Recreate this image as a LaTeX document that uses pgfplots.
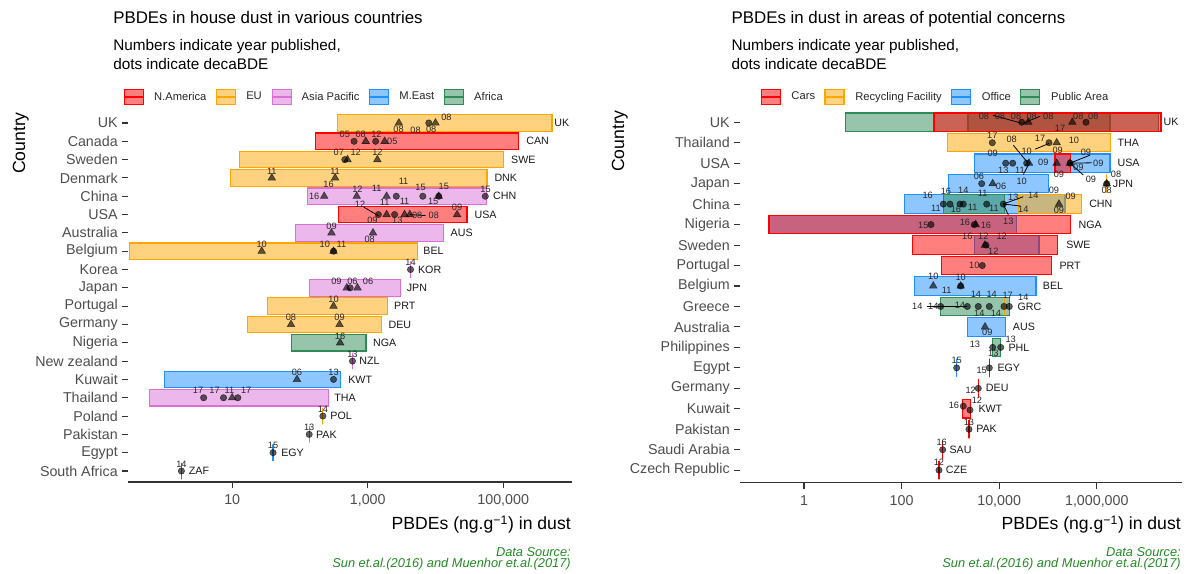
\documentclass[border=0pt]{standalone}
\usepackage{fontspec}
\setmainfont{Liberation Sans}
\usepackage{pgfplots}
\pgfplotsset{compat=1.18}
\definecolor{cNA}{HTML}{FF0000}
\definecolor{cEU}{HTML}{FFA500}
\definecolor{cAP}{HTML}{DA70D6}
\definecolor{cME}{HTML}{1E90FF}
\definecolor{cAF}{HTML}{2E8B57}
\definecolor{tickgray}{HTML}{4D4D4D}
\definecolor{axisgray}{HTML}{333333}
\definecolor{srcgreen}{HTML}{228B22}
\newcommand\rbar[4]{%
  \pgfmathsetmacro\ylo{#3-0.45}\pgfmathsetmacro\yhi{#3+0.45}%
  \edef\tmpbar{\noexpand\addplot[forget plot, draw=#4, fill=#4, fill opacity=0.5, line width=0.85pt, line join=miter] coordinates {(#1,\ylo) (#2,\ylo) (#2,\yhi) (#1,\yhi)} -- cycle;}\tmpbar}
\pgfplotsset{
 mypts/.style={forget plot, only marks, mark=*, mark size=2.4pt, black, opacity=0.62},
 mytri/.style={forget plot, only marks, mark=triangle*, mark size=3.3pt, black, opacity=0.62},
 myyl/.style={forget plot, draw=none, mark=none, nodes near coords, point meta=explicit symbolic,
   every node near coord/.append style={anchor=center, inner sep=0pt, font=\fontsize{6.9}{7}\selectfont, text=black!85}},
 mycl/.style={forget plot, draw=none, mark=none, nodes near coords, point meta=explicit symbolic,
   every node near coord/.append style={anchor=west, inner sep=0pt, font=\fontsize{8}{9}\selectfont, text=black!90}},
 myseg/.style={forget plot, black, line width=0.6pt},
}
\begin{document}
\begin{tikzpicture}[x=0.75pt,y=0.75pt]
\useasboundingbox (0,0) rectangle (1188,574);
% ---------------- LEFT ----------------
\begin{axis}[scale only axis, xmode=log, y dir=reverse, enlargelimits=false,
   axis x line*=bottom, axis y line*=left,
   x axis line style={draw=axisgray, line width=0.8pt, -},
   y axis line style={draw=none},
   tick align=outside, major tick length=4.5pt,
   xtick pos=left, ytick pos=left,
   tick style={draw=axisgray, line width=0.8pt},
   xminorticks=false, yminorticks=false,
   ticklabel style={font=\fontsize{10.7}{12}\selectfont, text=tickgray},
   yticklabel style={inner sep=0pt, xshift=-3pt},
   xticklabel style={inner sep=0pt, yshift=-5pt},
   legend cell align=left, legend columns=-1,
   legend image code/.code={\draw[#1, fill opacity=0.5] (0pt,-5.6pt) rectangle (14.25pt,5.6pt); \draw[#1] (0pt,0pt) -- (14.25pt,0pt);},
  at={(96pt,69pt)}, anchor=south west, width=333pt, height=277.5pt,
  xmin=0.29, xmax=1035000, ymin=0.4, ymax=20.6,
  xtick={10,1000,100000}, xticklabels={10,{1,000},{100,000}},
  ytick={1,...,20},
  yticklabels={UK,Canada,Sweden,Denmark,China,USA,Australia,Belgium,Korea,Japan,Portugal,Germany,Nigeria,New zealand,Kuwait,Thailand,Poland,Pakistan,Egypt,South Africa},
  legend style={at={(-0.009,1.0405)}, anchor=west, draw=none, fill=none, inner sep=0pt, outer sep=0pt,
    nodes={inner sep=0pt}, font=\fontsize{8.4}{10}\selectfont, text=black!85,
    /tikz/every odd column/.append style={column sep=7.5pt},
    /tikz/every even column/.append style={column sep=7.3pt}},
]
\addlegendimage{draw=cNA, fill=cNA, line width=0.85pt}\addlegendentry{N.America}
\addlegendimage{draw=cEU, fill=cEU, line width=0.85pt}\addlegendentry{EU}
\addlegendimage{draw=cAP, fill=cAP, line width=0.85pt}\addlegendentry{Asia Pacific}
\addlegendimage{draw=cME, fill=cME, line width=0.85pt}\addlegendentry{M.East}
\addlegendimage{draw=cAF, fill=cAF, line width=0.85pt}\addlegendentry{Africa}
\rbar{362}{525000}{1}{cEU}
\rbar{168}{170000}{2}{cNA}
\rbar{12.8}{101000}{3}{cEU}
\rbar{9.35}{57500}{4}{cEU}
\rbar{130}{56200}{5}{cAP}
\rbar{375}{29200}{6}{cNA}
\rbar{86.5}{13200}{7}{cAP}
\rbar{0.303}{5380}{8}{cEU}
\rbar{4290}{4290}{9}{cAP}
\rbar{139}{3055}{10}{cAP}
\rbar{33.5}{1950}{11}{cEU}
\rbar{16.6}{1590}{12}{cEU}
\rbar{75.5}{944}{13}{cAF}
\rbar{596}{596}{14}{cAP}
\rbar{1.01}{401}{15}{cME}
\rbar{0.596}{261}{16}{cAP}
\rbar{218}{218}{17}{cEU}
\rbar{137}{137}{18}{cAP}
\rbar{40.1}{40.1}{19}{cME}
\rbar{1.78}{1.78}{20}{cAF}
\addplot[mypts] table {
x y
7970 1
629 2
1311 2
459 3
2642 5
6503 5
11180 5
54330 5
1436 6
2494 6
313 8
4285 9
549 10
596 14
313 15
3.79 16
7.45 16
12.1 16
218 17
137 18
40.1 19
1.78 20
};
\addplot[mytri] table {
x y
2884 1
10000 1
935 2
1778 2
503 3
1389 3
38.4 4
330 4
228 5
689 5
1901 5
11180 5
1901 6
3499 6
4190 6
20850 6
292 7
1197 7
27.3 8
313 8
491 10
706 10
313 11
73.8 12
384 12
392 13
90.4 15
10 16
};
\addplot[myseg] coordinates {(873,5.59) (1437,6.066)};
\addplot[myseg] coordinates {(4188,6.0) (7127,6.055)};
\addplot[myyl] table[meta=l] {
x y l
14510 0.71 08
2857 1.344 08
5080 1.421 08
8645 1.344 08
459 1.617 05
789 1.617 08
1342 1.617 12
2308 2.0 05
375 2.623 07
666 2.623 12
1389 2.623 12
38.4 3.623 11
330 3.623 11
3383 4.169 11
162 5.0 16
264 4.35 16
706 4.623 12
1356 4.552 11
6017 4.514 15
13250 4.481 15
9252 5.30 15
54920 4.623 15
770 5.443 12
1173 6.30 09
1778 5.333 11
2734 6.30 13
3501 5.30 11
5382 6.066 08
9441 6.066 08
20850 5.607 09
293 6.667 09
1070 7.355 08
27.3 7.628 10
233 7.65 10
410 7.65 11
4290 8.623 14
346 9.634 09
596 9.634 06
1010 9.634 06
313 10.617 10
73.7 11.617 08
384 11.617 09
391 12.623 16
596 13.623 13
90.3 14.59 06
313 14.59 13
3.13 15.607 17
5.49 15.607 17
9.13 15.607 11
16.1 15.607 17
218 16.612 14
137 17.612 13
40.1 18.612 15
1.78 19.617 14
};
\addplot[mycl] table[meta=l] {
x y l
562000 1 UK
217900 2 CAN
129800 3 SWE
73720 4 DNK
70560 5 CHN
37460 6 USA
16620 7 AUS
6595 8 BEL
5492 9 KOR
3746 10 JPN
2437 11 PRT
2016 12 DEU
1196 13 NGA
745 14 NZL
513 15 KWT
319 16 THA
279 17 POL
172 18 PAK
52.6 19 EGY
2.28 20 ZAF
};
\end{axis}
% ---------------- RIGHT ----------------
\begin{axis}[scale only axis, xmode=log, y dir=reverse, enlargelimits=false,
   axis x line*=bottom, axis y line*=left,
   x axis line style={draw=axisgray, line width=0.8pt, -},
   y axis line style={draw=none},
   tick align=outside, major tick length=4.5pt,
   xtick pos=left, ytick pos=left,
   tick style={draw=axisgray, line width=0.8pt},
   xminorticks=false, yminorticks=false,
   ticklabel style={font=\fontsize{10.7}{12}\selectfont, text=tickgray},
   yticklabel style={inner sep=0pt, xshift=-3pt},
   xticklabel style={inner sep=0pt, yshift=-5pt},
   legend cell align=left, legend columns=-1,
   legend image code/.code={\draw[#1, fill opacity=0.5] (0pt,-5.6pt) rectangle (14.25pt,5.6pt); \draw[#1] (0pt,0pt) -- (14.25pt,0pt);},
  at={(555pt,68.625pt)}, anchor=south west, width=331.5pt, height=279.4pt,
  xmin=0.0489, xmax=55700000, ymin=0.4, ymax=18.6,
  xtick={1,100,10000,1000000}, xticklabels={1,100,{10,000},{1,000,000}},
  ytick={1,...,18},
  yticklabels={UK,Thailand,USA,Japan,China,Nigeria,Sweden,Portugal,Belgium,Greece,Australia,Philippines,Egypt,Germany,Kuwait,Pakistan,Saudi Arabia,Czech Republic},
  legend style={at={(0.0468,1.0349)}, anchor=west, draw=none, fill=none, inner sep=0pt, outer sep=0pt,
    nodes={inner sep=0pt}, font=\fontsize{8.4}{10}\selectfont, text=black!85,
    /tikz/every odd column/.append style={column sep=8.0pt},
    /tikz/every even column/.append style={column sep=7.0pt}},
]
\addlegendimage{draw=cNA, fill=cNA, line width=0.85pt}\addlegendentry{Cars}
\addlegendimage{draw=cEU, fill=cEU, line width=0.85pt}\addlegendentry{Recycling Facility}
\addlegendimage{draw=cME, fill=cME, line width=0.85pt}\addlegendentry{Office}
\addlegendimage{draw=cAF, fill=cAF, line width=0.85pt}\addlegendentry{Public Area}
% Office
\rbar{3090}{1860000}{3}{cME}
\rbar{906}{101000}{4}{cME}
\rbar{117}{223000}{5}{cME}
\rbar{0.192}{22900}{6}{cME}
\rbar{3090}{65400}{7}{cME}
\rbar{182}{56800}{9}{cME}
\rbar{2220}{13600}{11}{cME}
\rbar{1346}{1346}{13}{cME}
% Public area
\rbar{7.15}{18000000}{1}{cAF}
\rbar{2296}{1860000}{1}{cAF}
\rbar{716}{13100}{5}{cAF}
\rbar{633}{16100}{10}{cAF}
\rbar{7220}{10700}{12}{cAF}
% Recycling
\rbar{880}{1930000}{2}{cEU}
\rbar{1600000}{1600000}{4}{cEU}
\rbar{24600}{491000}{5}{cEU}
\rbar{12700}{12700}{10}{cEU}
% Cars
\rbar{461}{20700000}{1}{cNA}
\rbar{139000}{292000}{3}{cNA}
\rbar{0.192}{292000}{6}{cNA}
\rbar{166}{158000}{7}{cNA}
\rbar{664}{119000}{8}{cNA}
\rbar{6270}{6270}{13}{cNA}
\rbar{3730}{3730}{14}{cNA}
\rbar{1754}{2606}{15}{cNA}
\rbar{2405}{2405}{16}{cNA}
\rbar{695}{695}{17}{cNA}
\rbar{584}{584}{18}{cNA}
\addplot[mypts] table {
x y
28920 1
600600 1
7220 2
104800 2
13590 3
18910 3
36600 3
282400 3
4379 4
1596000 4
715 5
981 5
1573 5
1838 5
5544 5
12140 5
400 6
3090 6
5363 7
4505 8
1626 9
633 10
2220 10
3730 10
6270 10
12540 10
16110 10
7357 12
10730 12
1346 13
6270 13
3730 14
1838 14.87
2521 15.06
2405 16
695 17
584 18
};
\addplot[mytri] table {
x y
39480 1
314800 1
150800 2
40800 3
150800 3
282400 3
7357 4
1596000 4
168000 5
3299 6
5117 7
446 9
1626 9
5117 11
};
\addplot[myseg] coordinates {(7464,0.659) (28920,1.049)};
\addplot[myseg] coordinates {(68570,0.708) (30730,1.049)};
\addplot[myseg] coordinates {(54140,2.315) (104800,2.038)};
\addplot[myseg] coordinates {(19450,2.12) (39480,3.012)};
\addplot[myseg] coordinates {(31180,3.556) (39480,3.095)};
\addplot[myseg] coordinates {(725700,2.607) (282400,2.997)};
\addplot[myseg] coordinates {(786400,2.982) (282400,2.997)};
\addplot[myseg] coordinates {(529000,3.58) (282400,2.997)};
\addplot[myseg] coordinates {(31180,4.639) (12140,4.994)};
\addplot[myseg] coordinates {(26690,5.092) (12140,4.994)};
\addplot[myseg] coordinates {(15370,5.53) (12140,4.994)};
\addplot[myseg] coordinates {(326.9,9.977) (2220,9.977)};
\addplot[myyl] table[meta=l] {
x y l
4882 0.693 08
10380 0.693 08
22100 0.693 08
46340 0.693 08
101400 0.693 08
417800 0.693 08
847700 0.693 08
176200 1.307 17
7220 1.633 17
18040 1.843 08
68570 1.794 17
36600 2.413 10
341000 1.877 10
158000 2.364 09
7357 2.525 09
12140 3.338 13
26690 3.338 11
28920 3.874 10
80100 2.934 09
168000 3.533 09
417800 3.226 09
600600 2.447 09
1073000 3.012 09
760500 3.791 09
3855 3.630 06
10890 4.117 06
2474000 3.53 08
1596000 4.312 08
342.6 4.590 16
812.5 4.395 16
1838 4.346 14
4591 4.473 11
507 5.204 11
1302 5.252 16
2864 5.155 11
7825 5.204 11
19450 4.668 13
49960 4.556 14
31180 5.252 14
15370 5.856 13
132700 4.346 09
292000 4.604 09
168000 5.286 09
278.4 6.051 15
1992 5.905 16
5363 6.017 16
2220 6.587 16
4722 6.587 12
11250 6.553 12
7570 7.318 12
3090 8.0 10
446 8.535 10
1626 8.565 10
840 9.217 11
209.7 9.997 14
446 9.997 14
1573 9.963 14
3346 9.427 14
7020 9.427 14
14940 9.475 17
31180 9.56 14
3910 10.318 14
8599 10.318 14
5704 11.263 09
3193 11.862 13
17210 11.619 13
7570 12.30 13
1346 12.641 15
4379 13.114 15
2606 14.103 12
1185 14.819 16
3500 14.58 12
2405 15.647 13
663 16.621 16
584 17.595 12
};
\addplot[mycl] table[meta=l] {
x y l
23050000 1 UK
2630000 2 THA
2630000 3 USA
2118000 4 JPN
692200 5 CHN
417800 6 NGA
233800 7 SWE
170400 8 PRT
77900 9 BEL
23490 10 GRC
18910 11 AUS
15370 12 PHL
9145 13 EGY
5288 14 DEU
3730 15 KWT
3346 16 PAK
949 17 SAU
801 18 CZE
};
\end{axis}
% ---------------- TEXTS ----------------
\node[anchor=base west, inner sep=0pt, font=\fontsize{12.65}{14}\selectfont] at (113,550.5) {PBDEs in house dust in various countries};
\node[anchor=base west, inner sep=0pt, font=\fontsize{11.5}{13}\selectfont] at (113,523.5) {Numbers indicate year published,};
\node[anchor=base west, inner sep=0pt, font=\fontsize{11.5}{13}\selectfont] at (113,504.5) {dots indicate decaBDE};
\node[anchor=base west, inner sep=0pt, font=\fontsize{12.65}{14}\selectfont] at (731.3,550.5) {PBDEs in dust in areas of potential concerns};
\node[anchor=base west, inner sep=0pt, font=\fontsize{11.5}{13}\selectfont] at (731.3,523.5) {Numbers indicate year published,};
\node[anchor=base west, inner sep=0pt, font=\fontsize{11.5}{13}\selectfont] at (731.3,504.5) {dots indicate decaBDE};
\node[rotate=90, anchor=base east, inner sep=0pt, font=\fontsize{13.2}{14}\selectfont] at (25,462) {Country};
\node[rotate=90, anchor=base east, inner sep=0pt, font=\fontsize{13.2}{14}\selectfont] at (624,464) {Country};
\node[anchor=base east, inner sep=0pt, font=\fontsize{13.2}{14}\selectfont] at (571,44) {PBDEs (ng.g\textsuperscript{−1}) in dust};
\node[anchor=base east, inner sep=0pt, font=\fontsize{13.2}{14}\selectfont] at (1181,44) {PBDEs (ng.g\textsuperscript{−1}) in dust};
\node[anchor=base east, inner sep=0pt, text=srcgreen, font=\itshape\fontsize{9.6}{11}\selectfont] at (571,17) {Data Source:};
\node[anchor=base east, inner sep=0pt, text=srcgreen, font=\itshape\fontsize{9.6}{11}\selectfont] at (571,6) {Sun et.al.(2016) and Muenhor et.al.(2017)};
\node[anchor=base east, inner sep=0pt, text=srcgreen, font=\itshape\fontsize{9.6}{11}\selectfont] at (1181,17) {Data Source:};
\node[anchor=base east, inner sep=0pt, text=srcgreen, font=\itshape\fontsize{9.6}{11}\selectfont] at (1181,6) {Sun et.al.(2016) and Muenhor et.al.(2017)};
\end{tikzpicture}
\end{document}
